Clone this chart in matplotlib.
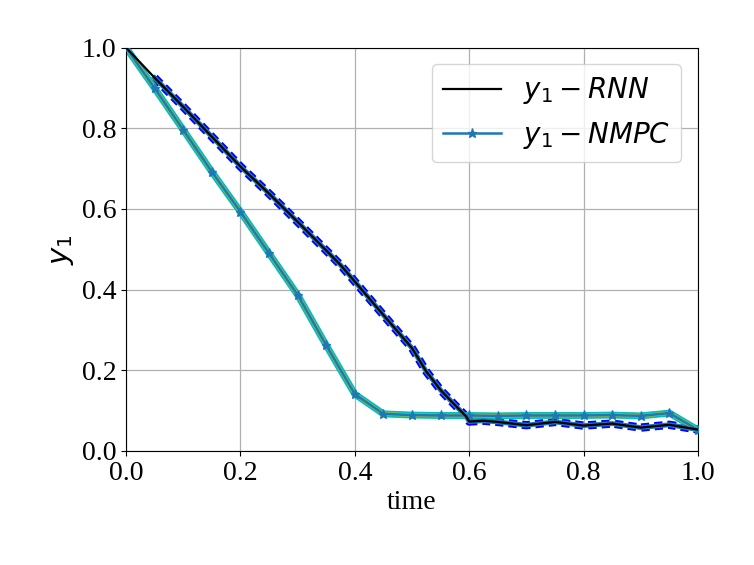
import numpy as np
import matplotlib
matplotlib.use("Agg")
import matplotlib.pyplot as plt

# RNN trajectory
t_rnn = [0.0, 0.05, 0.1, 0.15, 0.2, 0.25, 0.3, 0.35, 0.375, 0.4, 0.45, 0.5, 0.525, 0.55, 0.575, 0.595,
         0.6, 0.625, 0.65, 0.7, 0.75, 0.8, 0.85, 0.9, 0.95, 1.0]
y_rnn = [1.0, 0.925, 0.853, 0.779, 0.705, 0.638, 0.568, 0.497, 0.461, 0.42, 0.337, 0.255, 0.197, 0.151, 0.114, 0.085,
         0.073, 0.075, 0.072, 0.064, 0.072, 0.063, 0.068, 0.058, 0.065, 0.053]

# NMPC trajectory
t_nmpc = [0.0, 0.05, 0.1, 0.15, 0.2, 0.25, 0.3, 0.35, 0.39, 0.4, 0.45, 0.5, 0.55, 0.6, 0.65,
          0.7, 0.75, 0.8, 0.85, 0.9, 0.95, 1.0]
y_nmpc = [1.0, 0.899, 0.796, 0.692, 0.593, 0.49, 0.387, 0.262, 0.165, 0.141, 0.092, 0.089, 0.088, 0.088, 0.087,
          0.088, 0.088, 0.088, 0.089, 0.087, 0.094, 0.052]

legend_labels = [r'$y_1-RNN$', r'$y_1-NMPC$']

plt.rcParams['font.family'] = ['Liberation Serif', 'DejaVu Serif']
plt.rcParams['mathtext.fontset'] = 'dejavusans'

fig = plt.figure(figsize=(7.54, 5.65), dpi=100)
ax = fig.add_axes([126/754, 1-451/565, (698-126)/754, (451-47.5)/565])

t_r = np.array(t_rnn)
y_r = np.array(y_rnn)
band = t_r >= 0.05
ax.plot(t_r[band], y_r[band], color='blue', ls='--', lw=6, dashes=(1.0, 0.6), zorder=2)
ax.plot(t_r[band], y_r[band], color='tab:blue', lw=3.5, zorder=3)
l1, = ax.plot(t_r, y_r, color='black', lw=1.6, zorder=6)

t_n = np.array(t_nmpc)
y_n = np.array(y_nmpc)
mark = np.isclose((t_n * 20) % 1, 0) | np.isclose((t_n * 20) % 1, 1)
ax.plot(t_n, y_n, color='c', lw=5, zorder=2)
ax.plot(t_n, y_n, color='tab:olive', lw=2.5, zorder=3)
l2, = ax.plot(t_n, y_n, color='tab:blue', lw=1.8, marker='*', ms=6.5, markevery=list(mark), zorder=5)

ax.set_xlim(0, 1)
ax.set_ylim(0, 1)
ax.set_xticks(np.arange(0, 1.01, 0.2))
ax.set_yticks(np.arange(0, 1.01, 0.2))
ax.tick_params(labelsize=20)
ax.grid(True, color='#b0b0b0', lw=0.9)
ax.set_axisbelow(True)
ax.set_xlabel('time', fontsize=20, labelpad=3)
ax.set_ylabel(r'$y_1$', fontsize=21)

ax.legend([l1, l2], legend_labels, loc='upper right',
          prop={'family': 'DejaVu Sans', 'size': 20}, handlelength=2.1,
          borderaxespad=0.6)

fig.savefig('out.png', dpi=100)
